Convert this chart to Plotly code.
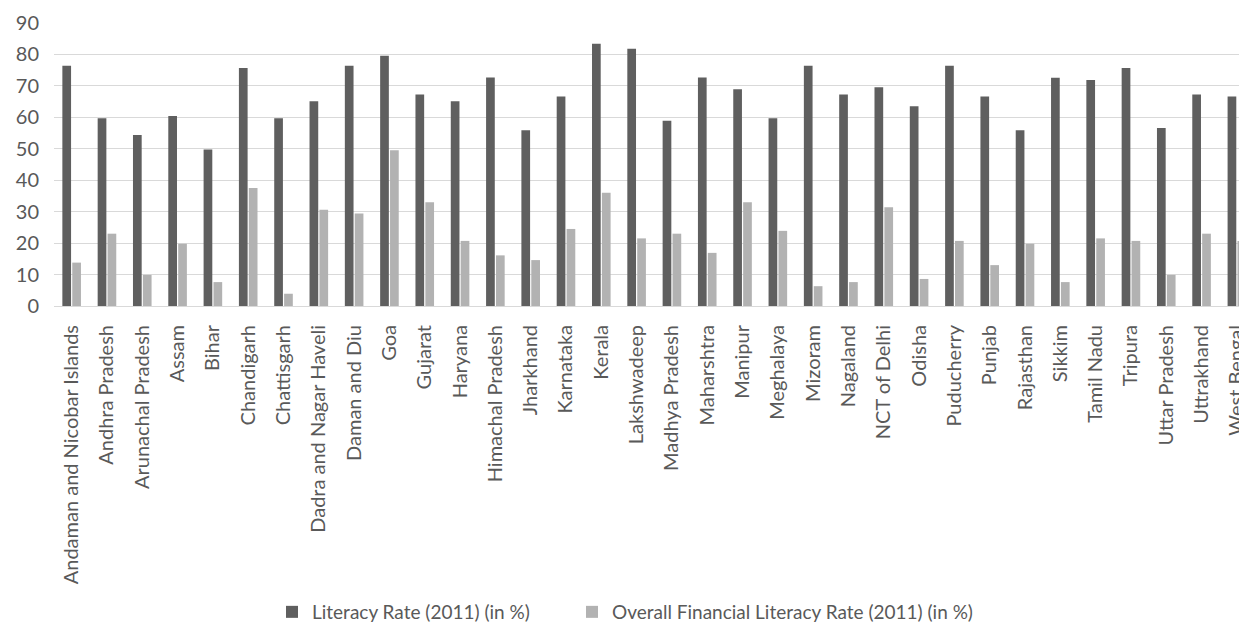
import plotly.graph_objects as go

states = ["Andaman and Nicobar Islands", "Andhra Pradesh", "Arunachal Pradesh", "Assam", "Bihar",
          "Chandigarh", "Chattisgarh", "Dadra and Nagar Haveli", "Daman and Diu", "Goa", "Gujarat",
          "Haryana", "Himachal Pradesh", "Jharkhand", "Karnataka", "Kerala", "Lakshwadeep",
          "Madhya Pradesh", "Maharshtra", "Manipur", "Meghalaya", "Mizoram", "Nagaland",
          "NCT of Delhi", "Odisha", "Puducherry", "Punjab", "Rajasthan", "Sikkim", "Tamil Nadu",
          "Tripura", "Uttar Pradesh", "Uttrakhand", "West Bengal"]

literacy = [76.4, 59.7, 54.4, 60.4, 49.8, 75.7, 59.7, 65.1, 76.4, 79.6, 67.3, 65.1, 72.7, 55.9,
            66.6, 83.4, 81.8, 58.9, 72.7, 68.9, 59.7, 76.4, 67.3, 69.6, 63.5, 76.4, 66.6, 55.9,
            72.6, 71.9, 75.7, 56.6, 67.3, 66.6]

fin_literacy = [13.8, 23.0, 9.9, 19.8, 7.6, 37.5, 3.9, 30.6, 29.4, 49.5, 33.0, 20.7, 16.1, 14.6,
                24.5, 36.0, 21.5, 23.0, 16.9, 33.0, 23.9, 6.3, 7.6, 31.4, 8.6, 20.7, 13.0, 19.8,
                7.6, 21.5, 20.7, 9.9, 23.0, 20.7]

series_names = ["Literacy Rate (2011) (in %)", "Overall Financial Literacy Rate (2011) (in %)"]
y_ticks = [0, 10, 20, 30, 40, 50, 60, 70, 80, 90]

FONT = "Lato"
TXT = "#595959"

fig = go.Figure()
fig.add_trace(go.Bar(x=states, y=literacy, name=series_names[0], showlegend=True,
                     marker=dict(color="#5f5f5f", line=dict(width=0)), legend="legend"))
fig.add_trace(go.Bar(x=states, y=fin_literacy, name=series_names[1], showlegend=True,
                     marker=dict(color="#b2b2b2", line=dict(width=0)), legend="legend2"))

W, H = 1239, 626
leg_common = dict(orientation="h", xref="container", yref="container", xanchor="left",
                  y=1 - 612 / H, yanchor="middle", borderwidth=0,
                  font=dict(family=FONT, size=19, color=TXT), bgcolor="rgba(0,0,0,0)")
fig.update_layout(
    width=W, height=H, showlegend=True,
    margin=dict(l=54, r=0, t=23, b=320, autoexpand=False),
    paper_bgcolor="white", plot_bgcolor="white",
    barmode="group", bargap=0.44, bargroupgap=0.12,
    font=dict(family=FONT, color=TXT),
    legend=dict(x=272 / W, **leg_common),
    legend2=dict(x=572 / W, **leg_common),
    xaxis=dict(range=[-0.5, 33.06], tickangle=-90, showgrid=False, showline=True,
               linecolor="#d9d9d9", linewidth=1, ticks="", automargin=False,
               tickfont=dict(family=FONT, size=20, color=TXT), ticklabelstandoff=10),
    yaxis=dict(range=[0, 90], tickvals=y_ticks, showgrid=True, gridcolor="#d9d9d9",
               gridwidth=1, zeroline=False, showline=False, ticks="", automargin=False,
               tickfont=dict(family=FONT, size=20, color=TXT), ticklabelstandoff=14),
)

fig.write_html("out.html")
